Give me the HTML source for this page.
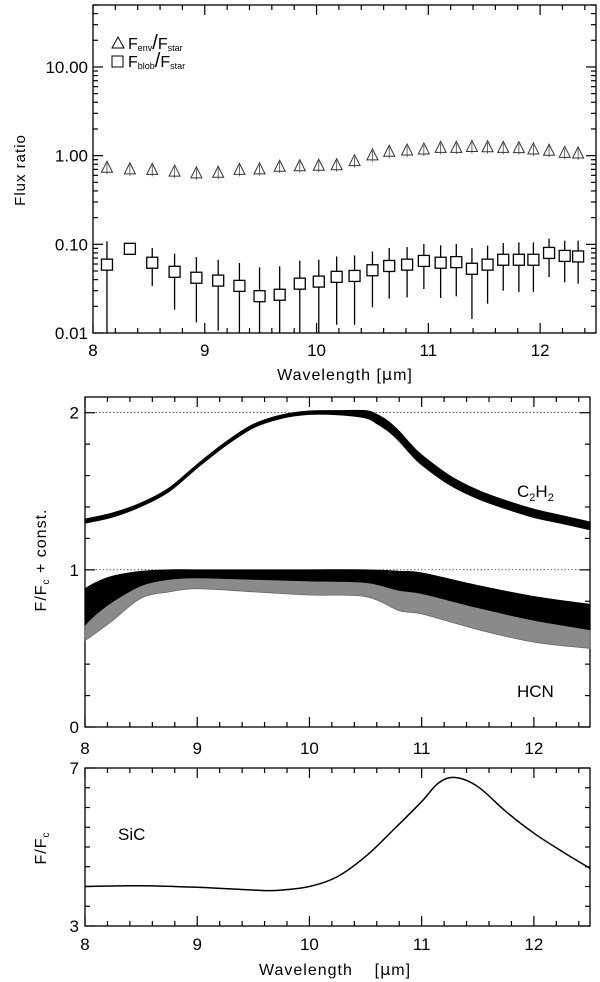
<!DOCTYPE html>
<html><head><meta charset="utf-8"><style>
html,body{margin:0;padding:0;background:#fff;}
svg{display:block;font-family:"Liberation Sans",sans-serif;}
</style></head><body>
<svg id="chart" width="600" height="982" viewBox="0 0 600 982"></svg>
<script>
// ---- Panel 1 data: flux ratios ----
const wave1 = [8.125,8.33,8.53,8.73,8.925,9.12,9.31,9.49,9.67,9.85,10.02,10.18,10.34,10.50,10.65,10.81,10.96,11.11,11.25,11.39,11.53,11.67,11.81,11.94,12.08,12.22,12.34];
const envRatio = [0.74,0.71,0.70,0.67,0.64,0.65,0.70,0.71,0.76,0.77,0.78,0.79,0.88,1.02,1.12,1.16,1.19,1.24,1.24,1.27,1.26,1.24,1.23,1.19,1.15,1.09,1.07];
const blobRatio = [0.059,0.089,0.062,0.049,0.042,0.039,0.034,0.026,0.027,0.036,0.038,0.043,0.044,0.051,0.057,0.059,0.065,0.062,0.063,0.053,0.059,0.067,0.067,0.067,0.080,0.074,0.073];
const blobHi = [0.108,0.095,0.091,0.0785,0.072,0.067,0.0616,0.055,0.0565,0.0655,0.067,0.073,0.075,0.083,0.091,0.093,0.101,0.0975,0.101,0.091,0.0966,0.1035,0.105,0.105,0.116,0.11,0.11];
const blobLo = [0.005,0.083,0.034,0.0183,0.0132,0.0106,0.005,0.005,0.005,0.005,0.005,0.0124,0.0124,0.0195,0.0244,0.0252,0.0313,0.0248,0.0259,0.0144,0.0214,0.030,0.029,0.029,0.0428,0.0373,0.036];
const yTicks1 = [0.01,0.1,1,10];
const yTickLabels1 = ["0.01","0.10","1.00","10.00"];
const xTicks = [8,9,10,11,12];
// ---- Panel 2 data: C2H2 and HCN ----
const wC2H2 = [8.0,8.25,8.5,8.75,9.0,9.25,9.5,9.75,10.0,10.25,10.5,10.6,10.7,10.8,10.9,11.0,11.25,11.5,11.75,12.0,12.25,12.5];
const c2h2 = [1.31,1.35,1.415,1.51,1.66,1.80,1.915,1.975,2.0,2.0,1.99,1.96,1.915,1.85,1.77,1.70,1.57,1.48,1.415,1.36,1.32,1.28];
const c2h2Noise = [0.012,0.012,0.01,0.01,0.01,0.01,0.01,0.01,0.01,0.012,0.022,0.028,0.03,0.03,0.03,0.03,0.028,0.026,0.025,0.025,0.024,0.024];
const wHCN = [8.0,8.1,8.25,8.5,8.75,9.0,9.5,10.0,10.5,10.8,11.0,11.5,12.0,12.5];
const hcnUpper = [0.88,0.92,0.96,0.99,1.0,1.0,1.0,1.0,1.0,0.99,0.98,0.9,0.83,0.78];
const hcnCore = [0.65,0.72,0.8,0.9,0.94,0.95,0.94,0.93,0.92,0.87,0.85,0.76,0.68,0.62];
const hcnLower = [0.55,0.6,0.68,0.82,0.86,0.88,0.86,0.84,0.83,0.74,0.72,0.62,0.54,0.5];
// ---- Panel 3 data: SiC ----
const wSiC = [8.0,8.5,9.0,9.5,9.7,10.0,10.25,10.5,10.75,11.0,11.15,11.3,11.5,11.75,12.0,12.25,12.5];
const sic = [4.0,4.02,3.98,3.91,3.9,4.0,4.25,4.76,5.44,6.15,6.62,6.76,6.53,5.9,5.35,4.89,4.46];

const NS="http://www.w3.org/2000/svg";
const svg=document.getElementById('chart');
function mk(tag,attrs,parent){const e=document.createElementNS(NS,tag);for(const k in attrs)e.setAttribute(k,attrs[k]);(parent||svg).appendChild(e);return e;}

const P1={x0:93,x1:596,y0:5,y1:333};
const P2={x0:85,x1:590,y0:397,y1:727};
const P3={x0:85,x1:590,y0:768,y1:926};
function xs(p,w){return p.x0+(w-8)/4.5*(p.x1-p.x0);}
function y1s(v){return P1.y1-(Math.log10(v)+2)/(Math.log10(50)+2)*(P1.y1-P1.y0);}
function y2s(v){return P2.y1-v/2.1*(P2.y1-P2.y0);}
function y3s(v){return P3.y1-(v-3)/4*(P3.y1-P3.y0);}
function smooth(pts){let d='';
  for(let i=0;i<pts.length-1;i++){const p0=pts[Math.max(0,i-1)],p1=pts[i],p2=pts[i+1],p3=pts[Math.min(pts.length-1,i+2)];
    d+=` C${p1[0]+(p2[0]-p0[0])/6},${p1[1]+(p2[1]-p0[1])/6} ${p2[0]-(p3[0]-p1[0])/6},${p2[1]-(p3[1]-p1[1])/6} ${p2[0]},${p2[1]}`;}
  return d;}
function bandPath(p,ws,hi,lo,ys){
  const a=ws.map((w,i)=>[xs(p,w),ys(hi[i])]);
  const b=ws.map((w,i)=>[xs(p,w),ys(lo[i])]).reverse();
  return `M${a[0][0]},${a[0][1]}`+smooth(a)+` L${b[0][0]},${b[0][1]}`+smooth(b)+'Z';}

function frame(p,name){
  const g=mk('g',{});
  
  
  mk('rect',{x:p.x0,y:p.y0,width:p.x1-p.x0,height:p.y1-p.y0,fill:'none',stroke:'#000','stroke-width':1.3},g);
  for(let i=0;i<=22;i++){const w=8+i*0.2;const x=xs(p,w);const major=(i%5===0);const L=major?10:5;
    mk('line',{x1:x,y1:p.y1,x2:x,y2:p.y1-L,stroke:'#000','stroke-width':1.2},g);
    mk('line',{x1:x,y1:p.y0,x2:x,y2:p.y0+L,stroke:'#000','stroke-width':1.2},g);}
  return g;
}
function xLabels(p,y,name){
  const g=mk('g',{});
  
  
  xTicks.forEach(t=>{const e=mk('text',{x:xs(p,t),y:y,'text-anchor':'middle','font-size':17},g);e.textContent=t;});
}
function yTick(p,y,L,g){mk('line',{x1:p.x0,y1:y,x2:p.x0+L,y2:y,stroke:'#000','stroke-width':1.2},g);mk('line',{x1:p.x1,y1:y,x2:p.x1-L,y2:y,stroke:'#000','stroke-width':1.2},g);}

// ---- Panel 1 ----
const g1=frame(P1,'flux-ratio-panel');
for(let d=-2;d<=1;d++){for(let m=1;m<=9;m++){const v=m*Math.pow(10,d);if(v>50)break;yTick(P1,y1s(v),m===1?10:5,g1);}}
yTicks1.forEach((t,i)=>{const e=mk('text',{x:P1.x0-5,y:y1s(t)+6,'text-anchor':'end','font-size':17});e.textContent=yTickLabels1[i];});
xLabels(P1,356,'x-tick-labels-top');
let t=mk('text',{x:345,y:380,'text-anchor':'middle','font-size':16,'letter-spacing':'1'});

t.innerHTML='Wavelength [<tspan font-family="DejaVu Sans">μ</tspan>m]';
t=mk('text',{x:0,y:0,'text-anchor':'middle','font-size':15,transform:'translate(25,170) rotate(-90)','letter-spacing':'1'});
t.textContent='Flux ratio';
wave1.forEach((w,i)=>{const x=xs(P1,w);const hi=Math.min(y1s(blobHi[i]),P1.y1);const lo=Math.min(y1s(blobLo[i]),P1.y1);
  const l=mk('line',{x1:x,y1:hi,x2:x,y2:lo,stroke:'#000','stroke-width':1.3});
  });
wave1.forEach((w,i)=>{const x=xs(P1,w),y=y1s(blobRatio[i]);
  const r=mk('rect',{x:x-5.5,y:y-5.5,width:11,height:11,fill:'#fff',stroke:'#000','stroke-width':1.3});
  });
wave1.forEach((w,i)=>{const x=xs(P1,w),y=y1s(envRatio[i]);
  const p=mk('polygon',{points:`${x-5.5},${y+5} ${x+5.5},${y+5} ${x},${y-6}`,fill:'none',stroke:'#333','stroke-width':1});
  
  mk('line',{x1:x,y1:y-4,x2:x,y2:y+7,stroke:'#444','stroke-width':0.8});});
const lg=mk('g',{});
mk('polygon',{points:'112,48 124,48 118,37',fill:'none',stroke:'#000','stroke-width':1},lg);
t=mk('text',{x:128,y:49,'font-size':16},lg);t.innerHTML='F<tspan font-size="9" dy="2">env</tspan><tspan dy="-2" font-size="20">/</tspan>F<tspan font-size="9" dy="2">star</tspan>';
mk('rect',{x:112,y:56,width:11,height:11,fill:'none',stroke:'#000','stroke-width':1},lg);
t=mk('text',{x:128,y:67,'font-size':16},lg);t.innerHTML='F<tspan font-size="9" dy="2">blob</tspan><tspan dy="-2" font-size="20">/</tspan>F<tspan font-size="9" dy="2">star</tspan>';

// ---- Panel 2 ----
const g2=frame(P2,'molecular-spectra-panel');
for(let i=0;i<=10;i++){const v=i*0.2;yTick(P2,y2s(v),i%5===0?10:5,g2);}
[0,1,2].forEach(v=>{const e=mk('text',{x:P2.x0-6,y:y2s(v)+6,'text-anchor':'end','font-size':17});e.textContent=v;});
[1,2].forEach(v=>{const l=mk('line',{x1:P2.x0,y1:y2s(v),x2:P2.x1,y2:y2s(v),stroke:'#000','stroke-width':0.6,'stroke-dasharray':'1.5,2'});});
xLabels(P2,754,'x-tick-labels-middle');
t=mk('text',{x:0,y:0,'text-anchor':'middle','font-size':16,transform:'translate(46,560) rotate(-90)','letter-spacing':'1'});

t.innerHTML='F/F<tspan font-size="10" dy="3">c</tspan><tspan dy="-3"> + const.</tspan>';
const c2Hi=c2h2.map((v,i)=>v+c2h2Noise[i]);
const c2Lo=c2h2.map((v,i)=>v-c2h2Noise[i]);
let pg=mk('path',{d:bandPath(P2,wC2H2,c2Hi,c2Lo,y2s),fill:'#000',stroke:'#000','stroke-width':1.3,'stroke-linejoin':'round'});

pg=mk('path',{d:bandPath(P2,wHCN,hcnUpper,hcnLower,y2s),fill:'#8a8a8a',stroke:'#666','stroke-width':0.8});

pg=mk('path',{d:bandPath(P2,wHCN,hcnUpper,hcnCore,y2s),fill:'#000',stroke:'#000','stroke-width':1});

t=mk('text',{x:517,y:497,'font-size':17});
t.innerHTML='C<tspan font-size="11" dy="4">2</tspan><tspan dy="-4">H</tspan><tspan font-size="11" dy="4">2</tspan>';
t=mk('text',{x:517,y:697,'font-size':17});t.textContent='HCN';

// ---- Panel 3 ----
const g3=frame(P3,'sic-panel');
for(let i=0;i<=8;i++){const v=3+i*0.5;yTick(P3,y3s(v),(i===0||i===8)?10:5,g3);}
[3,7].forEach(v=>{const e=mk('text',{x:P3.x0-6,y:y3s(v)+6,'text-anchor':'end','font-size':17});e.textContent=v;});
xLabels(P3,950,'x-tick-labels-bottom');
t=mk('text',{x:335,y:975,'text-anchor':'middle','font-size':16,'letter-spacing':'1',style:'white-space:pre'});

t.innerHTML='Wavelength \u00a0\u00a0\u00a0[<tspan font-family="DejaVu Sans">μ</tspan>m]';
t=mk('text',{x:0,y:0,'text-anchor':'middle','font-size':16,transform:'translate(46,848) rotate(-90)','letter-spacing':'1'});

t.innerHTML='F/F<tspan font-size="10" dy="3">c</tspan>';
const pts=wSiC.map((w,i)=>[xs(P3,w),y3s(sic[i])]);
const sp=mk('path',{d:`M${pts[0][0]},${pts[0][1]}`+smooth(pts),fill:'none',stroke:'#000','stroke-width':1.5});

t=mk('text',{x:118,y:840,'font-size':17});t.textContent='SiC';
</script>
</body></html>
